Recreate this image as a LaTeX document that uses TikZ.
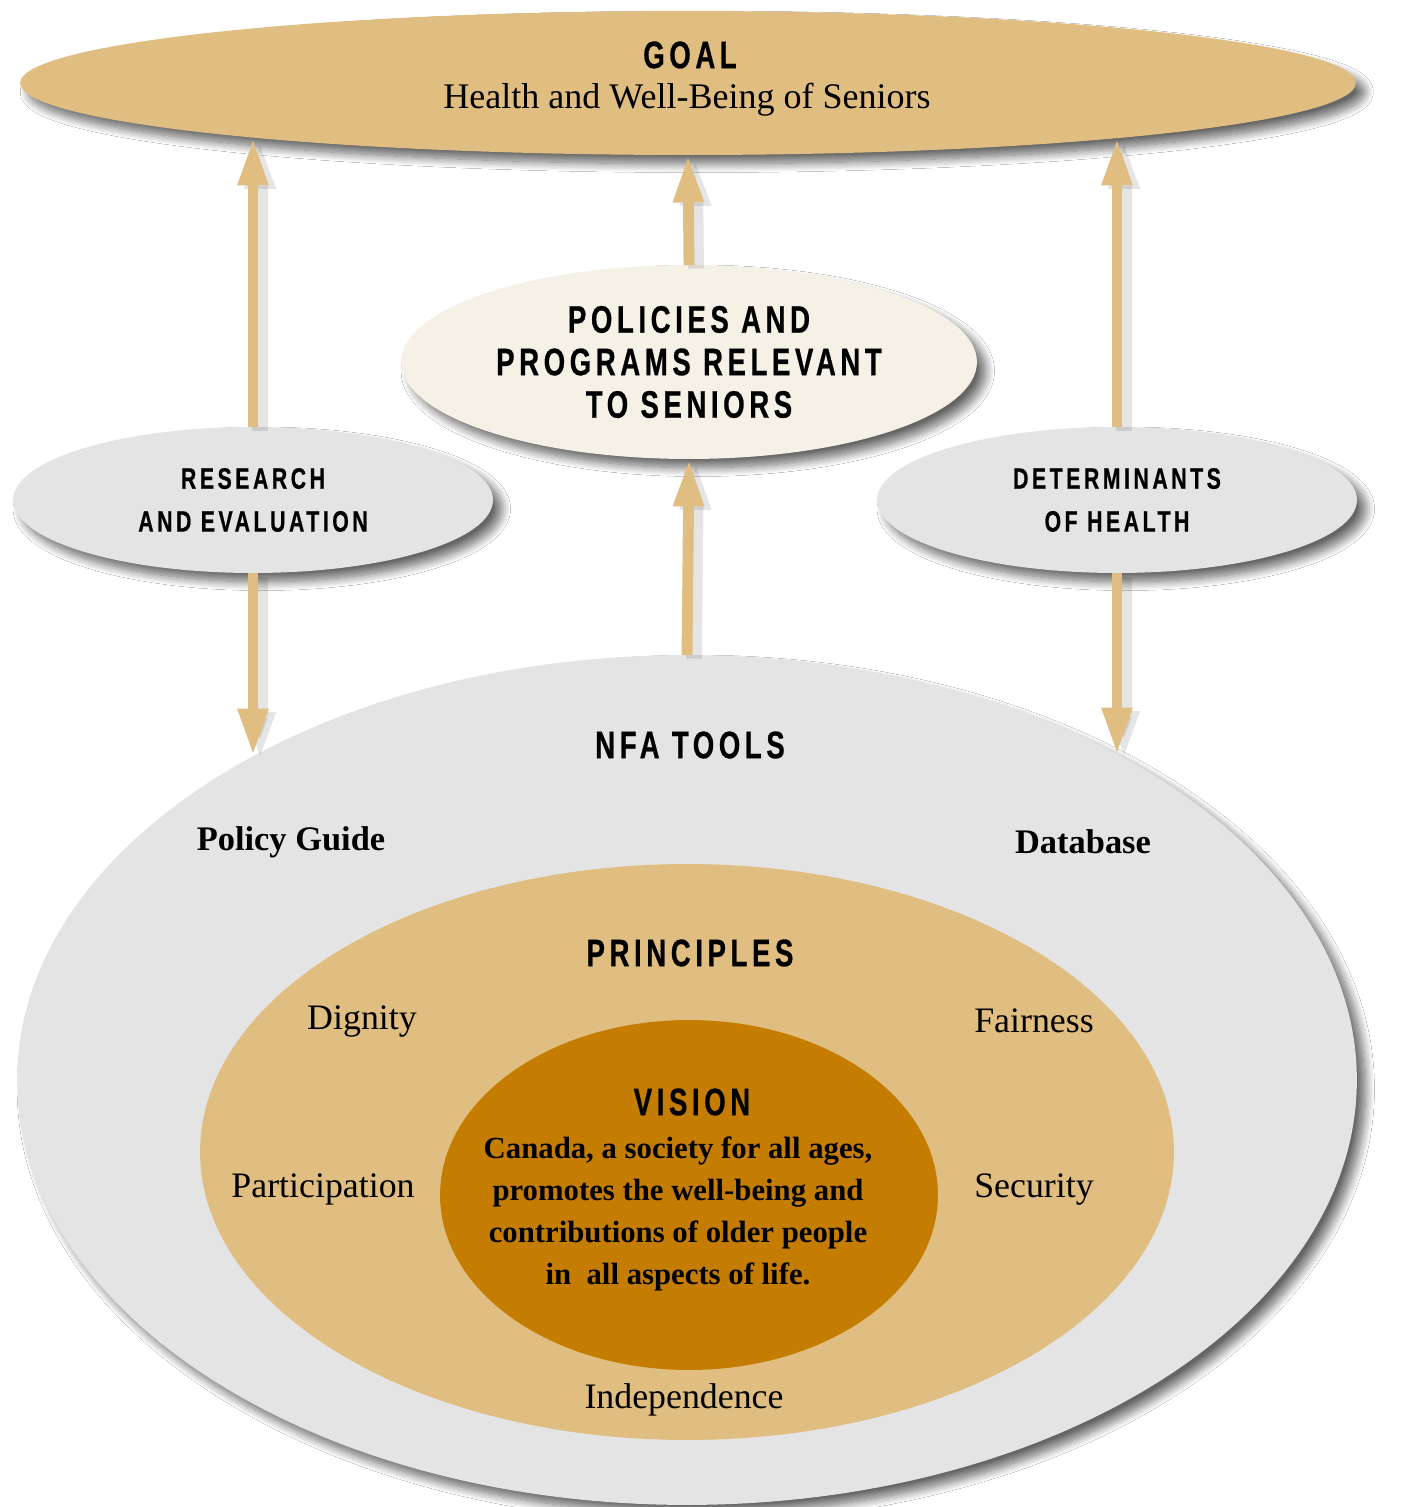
\documentclass[tikz,border=0pt]{standalone}
\usepackage{fontspec}
\setmainfont{Liberation Serif}
\newfontfamily\capsfont[FakeStretch=0.72,LetterSpace=12,FakeBold=0.6]{Liberation Sans}
\usetikzlibrary{calc, shapes.geometric, arrows.meta, shadows.blur}
\definecolor{NFATan}{RGB}{224,189,128}
\definecolor{NFACream}{RGB}{246,241,230}
\definecolor{NFAGrey}{RGB}{228,228,228}
\definecolor{NFAOchre}{RGB}{196,125,0}

\tikzset{
  ring/.style={ellipse, inner sep=0pt, outer sep=0pt, align=center},
  blob/.style={ring,
    blur shadow={shadow xshift=5pt, shadow yshift=-5pt,
      shadow blur radius=5pt, shadow blur steps=14, shadow opacity=60}},
  flow/.style={draw=NFATan, line width=6.2pt,
    -{Triangle[length=27pt,width=16pt]},
    preaction={draw=black, opacity=0.10, line width=9pt,
      transform canvas={xshift=4pt, yshift=-2pt}}},
  heading/.style={font=\capsfont\bfseries\fontsize{21.8}{24.2}\selectfont, align=center},
  subheading/.style={font=\capsfont\bfseries\fontsize{16.8}{24.4}\selectfont, align=center},
  item/.style={font=\fontsize{20.4}{24}\selectfont},
  tool/.style={font=\bfseries\fontsize{19.6}{24}\selectfont},
}

\begin{document}
\begin{tikzpicture}[x=0.02cm, y=-0.02cm]
  \fill[white] (0,0) rectangle (1400,1507);
  \useasboundingbox (0,0) rectangle (1400,1507);

  % outer rings, from the tools down to the vision
  \node[blob, fill=NFAGrey, minimum width=26.8cm, minimum height=17cm] (nfa) at (687,1080) {};
  \node[ring, fill=NFATan, minimum width=19.48cm, minimum height=11.52cm] (principles) at (687,1152) {};
  \node[ring, fill=NFAOchre, minimum width=9.96cm, minimum height=7cm] (vision) at (689,1195) {};

  % upper ellipses
  \node[blob, fill=NFATan, minimum width=26.72cm, minimum height=2.88cm] (goal) at (688,83) {};
  \node[blob, fill=NFACream, minimum width=11.52cm, minimum height=3.88cm, heading] (policies) at (689,362)
    {POLICIES AND\\PROGRAMS RELEVANT\\TO SENIORS};
  \node[blob, fill=NFAGrey, minimum width=9.6cm, minimum height=2.92cm, subheading] (research) at (253,500)
    {RESEARCH\\AND EVALUATION};
  \node[blob, fill=NFAGrey, minimum width=9.6cm, minimum height=2.92cm, subheading] (determinants) at (1117,500)
    {DETERMINANTS\\OF HEALTH};

  % labels
  \node[heading] (goalhead) at (690,55) {GOAL};
  \node[font=\fontsize{20.5}{24}\selectfont] (goaltext) at (687,100) {Health and Well-Being of Seniors};
  \node[heading] (nfahead) at (690,745) {NFA TOOLS};
  \node[tool] (guide) at (291,842) {Policy Guide};
  \node[tool] (database) at (1083,842) {Database};
  \node[heading] (prinhead) at (690,953) {PRINCIPLES};
  \node[item] (dignity) at (362,1021) {Dignity};
  \node[item] (fairness) at (1034,1021) {Fairness};
  \node[item] (participation) at (323,1189) {Participation};
  \node[item] (security) at (1034,1189) {Security};
  \node[item] (independence) at (684,1400) {Independence};
  \node[heading] (visionhead) at (692,1102) {VISION};
  \node[font=\bfseries\fontsize{17.5}{24}\selectfont, align=center] (visiontext) at (678,1214)
    {Canada, a society for all ages,\\promotes the well-being and\\contributions of older people\\in~ all aspects of life.};

  % where the side arrows meet the two big ellipses
  \coordinate (goalL) at ($(research |- goal)+(0,55)$);
  \coordinate (goalR) at ($(determinants |- goal)+(0,55)$);
  \coordinate (nfaL) at ($(research |- nfa)+(0,-324)$);
  \coordinate (nfaR) at ($(determinants |- nfa)+(0,-325)$);

  % arrows
  \draw[flow] (research.north) -- (goalL);
  \draw[flow] (determinants.north) -- (goalR);
  \draw[flow] (policies.north) -- (goal.south);
  \draw[flow] (nfa.north) -- (policies.south);
  \draw[flow] (research.south) -- (nfaL);
  \draw[flow] (determinants.south) -- (nfaR);
\end{tikzpicture}
\end{document}
